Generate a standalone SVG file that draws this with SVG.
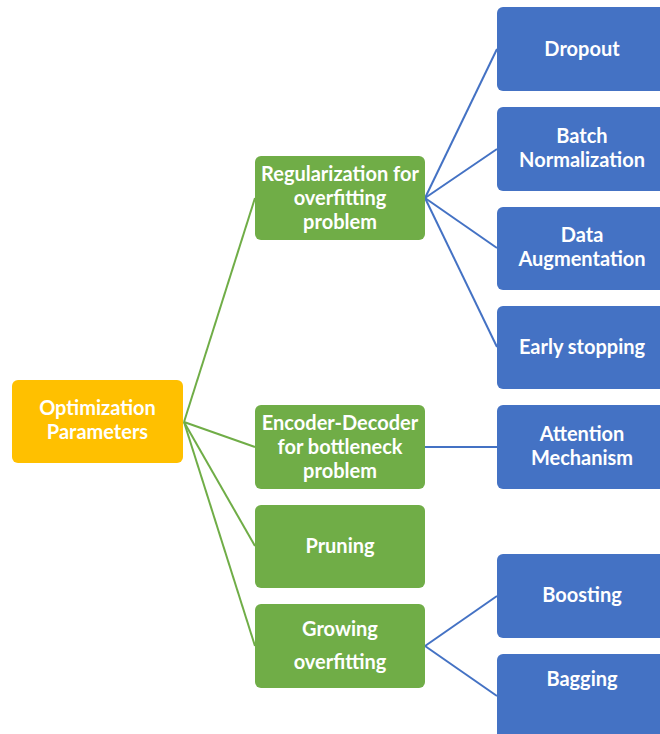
<svg xmlns="http://www.w3.org/2000/svg" width="660" height="734" viewBox="0 0 660 734">
<style>
.box{stroke:none}
.o{fill:#FFC000}
.g{fill:#70AD47}
.b{fill:#4472C4}
.t{font-family:Lato,"Liberation Sans",sans-serif;font-weight:bold;font-size:20px;fill:#fff;text-anchor:middle}
.cg{stroke:#70AD47;stroke-width:2;fill:none}
.cb{stroke:#4472C4;stroke-width:2;fill:none}
</style>
<rect width="660" height="734" fill="#fff"/>
<g id="connectors">
<line class="cg" x1="184" y1="422" x2="255" y2="198"/>
<line class="cg" x1="184" y1="422" x2="255" y2="447"/>
<line class="cg" x1="184" y1="422" x2="255" y2="546"/>
<line class="cg" x1="184" y1="422" x2="255" y2="646"/>
<line class="cb" x1="425" y1="198" x2="497" y2="49"/>
<line class="cb" x1="425" y1="198" x2="497" y2="149"/>
<line class="cb" x1="425" y1="198" x2="497" y2="248"/>
<line class="cb" x1="425" y1="198" x2="497" y2="347"/>
<line class="cb" x1="425" y1="447" x2="497" y2="447"/>
<line class="cb" x1="425" y1="646" x2="497" y2="596"/>
<line class="cb" x1="425" y1="646" x2="497" y2="696"/>
</g>
<g id="optimization">
<rect class="o" x="12" y="380" width="171" height="83" rx="6"/>
<text class="t" x="97.5" y="415">Optimization</text>
<text class="t" x="97.5" y="439">Parameters</text>
</g>
<g id="regularization">
<rect class="g" x="255" y="156" width="170" height="84" rx="6"/>
<text class="t" x="340" y="181">Regularization for</text>
<text class="t" x="340" y="205">overfitting</text>
<text class="t" x="340" y="229">problem</text>
</g>
<g id="encoder">
<rect class="g" x="255" y="405" width="170" height="84" rx="6"/>
<text class="t" x="340" y="430">Encoder-Decoder</text>
<text class="t" x="340" y="454">for bottleneck</text>
<text class="t" x="340" y="478">problem</text>
</g>
<g id="pruning">
<rect class="g" x="255" y="505" width="170" height="83" rx="6"/>
<text class="t" x="340" y="553">Pruning</text>
</g>
<g id="growing">
<rect class="g" x="255" y="604" width="170" height="84" rx="6"/>
<text class="t" x="340" y="636">Growing</text>
<text class="t" x="340" y="669">overfitting</text>
</g>
<g id="dropout">
<rect class="b" x="497" y="7" width="170" height="84" rx="6"/>
<text class="t" x="582" y="55.5">Dropout</text>
</g>
<g id="batchnorm">
<rect class="b" x="497" y="107" width="170" height="84" rx="6"/>
<text class="t" x="582" y="143">Batch</text>
<text class="t" x="582" y="167">Normalization</text>
</g>
<g id="dataaug">
<rect class="b" x="497" y="207" width="170" height="83" rx="6"/>
<text class="t" x="582" y="242">Data</text>
<text class="t" x="582" y="266">Augmentation</text>
</g>
<g id="earlystop">
<rect class="b" x="497" y="306" width="170" height="83" rx="6"/>
<text class="t" x="582" y="354">Early stopping</text>
</g>
<g id="attention">
<rect class="b" x="497" y="405" width="170" height="84" rx="6"/>
<text class="t" x="582" y="441">Attention</text>
<text class="t" x="582" y="465">Mechanism</text>
</g>
<g id="boosting">
<rect class="b" x="497" y="554" width="170" height="84" rx="6"/>
<text class="t" x="582" y="602">Boosting</text>
</g>
<g id="bagging">
<rect class="b" x="497" y="654" width="170" height="90" rx="6"/>
<text class="t" x="582" y="686">Bagging</text>
</g>
</svg>
